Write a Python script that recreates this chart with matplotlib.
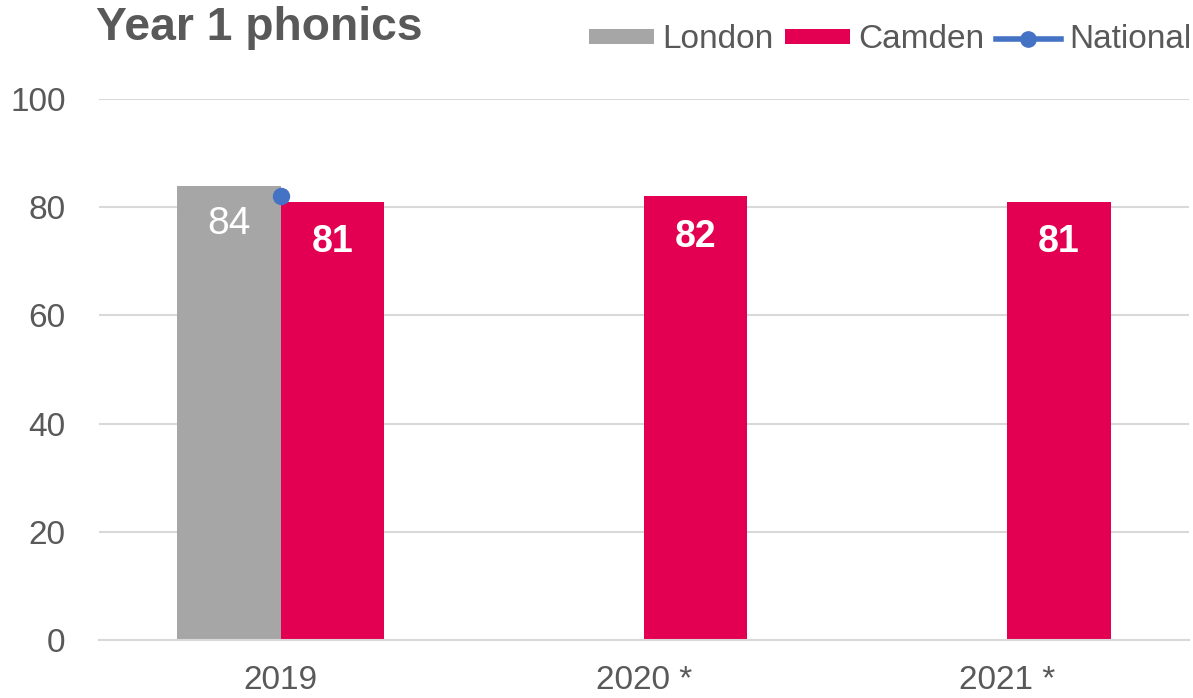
import matplotlib
matplotlib.use("Agg")
import matplotlib.pyplot as plt
import numpy as np
from matplotlib.lines import Line2D
from matplotlib.patches import Patch

plt.rcParams['font.family'] = ['Liberation Sans', 'DejaVu Sans']

categories = ["2019", "2020 *", "2021 *"]
london = [84, None, None]
camden = [81, 82, 81]
national = [82, None, None]
yticks = [0, 20, 40, 60, 80, 100]

c_london = "#A6A6A6"
c_camden = "#E30052"
c_national = "#4472C4"
c_text = "#595959"

fig = plt.figure(figsize=(11.93, 6.98), dpi=100)
ax = fig.add_axes([99/1193, 58/698, 1090/1193, 541/698])

x = np.arange(len(categories))
w = 0.284

for i, v in enumerate(london):
    if v is not None:
        ax.bar(x[i] - w/2, v, w, color=c_london, zorder=2)
        ax.annotate(f"{v}", (x[i] - w/2, v), xytext=(0, -28), textcoords="offset points",
                    ha="center", va="center", color="white", fontsize=28)
for i, v in enumerate(camden):
    ax.bar(x[i] + w/2, v, w, color=c_camden, zorder=2)
    ax.annotate(f"{v}", (x[i] + w/2, v), xytext=(0, -29), textcoords="offset points",
                ha="center", va="center", color="white", fontsize=27, fontweight="bold")
for i, v in enumerate(national):
    if v is not None:
        ax.plot([x[i]], [v], marker="o", color=c_national, markersize=11.5, zorder=3,
                linestyle="-", linewidth=4)

ax.set_xlim(-0.5, len(categories) - 0.5)
ax.set_ylim(0, 100)
ax.set_yticks(yticks)
ax.set_xticks(x)
ax.set_xticklabels(categories)
ax.tick_params(axis="both", length=0, labelsize=24, labelcolor=c_text)
ax.tick_params(axis="y", pad=24)
ax.tick_params(axis="x", pad=18)
ax.grid(axis="y", color="#D9D9D9", linewidth=1.5, zorder=0)
ax.set_axisbelow(True)
for s in ["top", "right", "left"]:
    ax.spines[s].set_visible(False)
ax.spines["bottom"].set_color("#D9D9D9")
ax.spines["bottom"].set_linewidth(1.5)

fig.text(96/1193, 1 - 28/698, "Year 1 phonics", fontsize=33.3, fontweight="bold",
         color=c_text, ha="left", va="center")

handles = [Patch(facecolor=c_london, edgecolor="none"),
           Patch(facecolor=c_camden, edgecolor="none"),
           Line2D([0], [0], color=c_national, linewidth=4, marker="o", markersize=11)]
leg = fig.legend(handles, ["London", "Camden", "National"], loc="center right",
                 bbox_to_anchor=(1191/1193, 1 - 40/698), ncol=3, frameon=False,
                 fontsize=24, handlelength=1.95, handleheight=0.33, handletextpad=0.24,
                 columnspacing=0.35, borderaxespad=0, borderpad=0)
for t in leg.get_texts():
    t.set_color(c_text)

fig.savefig("out.png", dpi=100)
